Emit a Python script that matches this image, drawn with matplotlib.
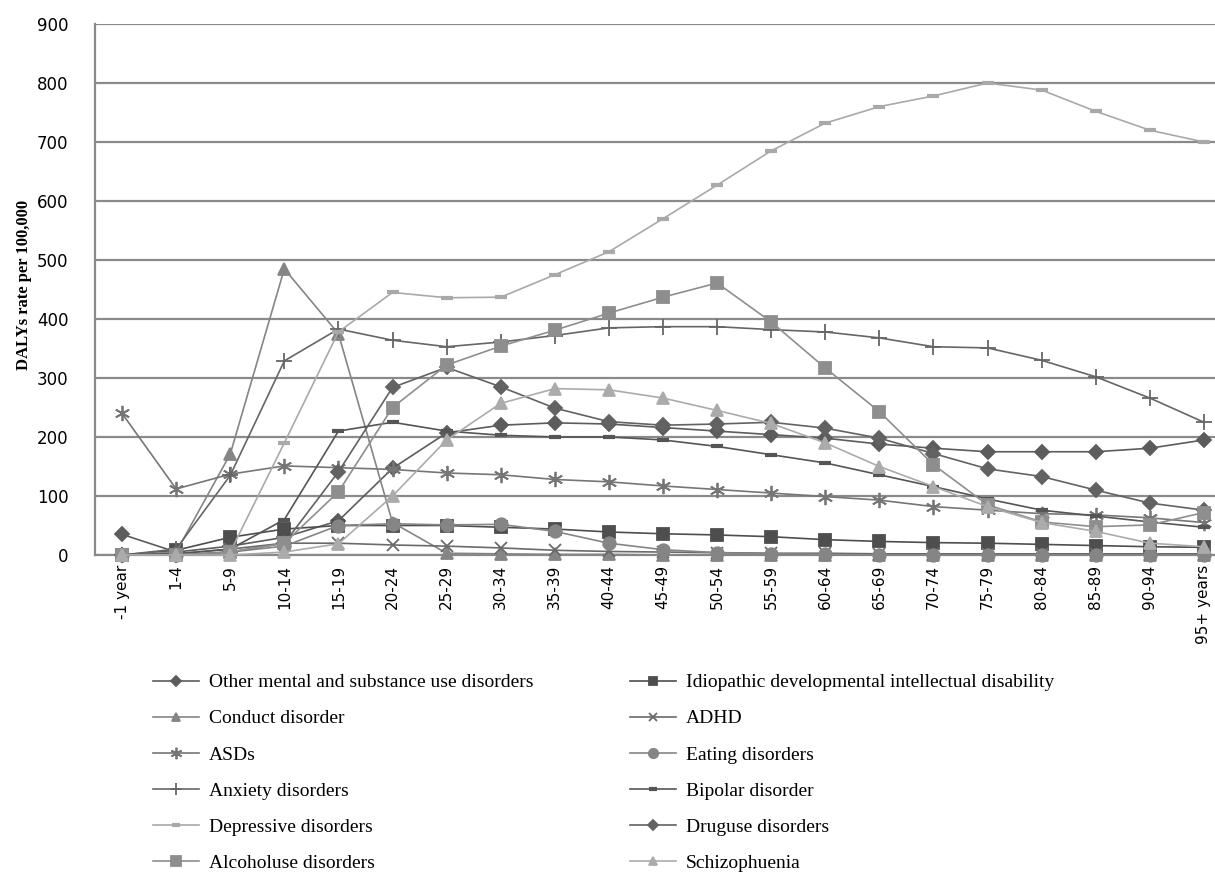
"""DALYs rate per 100,000 by age group for mental and substance use disorders."""
import matplotlib
matplotlib.use("Agg")
import matplotlib.pyplot as plt

AGES = ["-1 year", "1-4", "5-9", "10-14", "15-19", "20-24", "25-29", "30-34",
        "35-39", "40-44", "45-49", "50-54", "55-59", "60-64", "65-69", "70-74",
        "75-79", "80-84", "85-89", "90-94", "95+ years"]

other = [35, 5, 15, 30, 58, 147, 207, 220, 224, 222, 216, 210, 204, 198, 188, 181, 175, 175, 175, 181, 195]
idiopathic = [0, 8, 30, 44, 50, 50, 50, 47, 44, 39, 36, 34, 31, 26, 23, 21, 20, 18, 16, 14, 13]
conduct = [0, 5, 171, 485, 375, 55, 3, 2, 1, 1, 0, 0, 0, 0, 0, 0, 0, 0, 0, 0, 0]
adhd = [0, 2, 10, 20, 20, 17, 15, 12, 8, 6, 5, 4, 3, 3, 2, 2, 2, 2, 2, 2, 2]
asds = [240, 112, 137, 151, 148, 145, 139, 136, 128, 124, 117, 111, 105, 99, 93, 82, 76, 70, 68, 63, 55]
eating = [0, 0, 5, 15, 50, 53, 51, 52, 40, 20, 9, 4, 2, 1, 0, 0, 0, 0, 0, 0, 0]
anxiety = [0, 10, 135, 329, 383, 364, 353, 361, 372, 385, 387, 387, 382, 378, 368, 353, 351, 330, 302, 266, 225]
bipolar = [0, 2, 10, 60, 210, 225, 210, 203, 200, 200, 195, 184, 170, 156, 136, 116, 95, 76, 66, 56, 47]
depressive = [0, 0, 5, 190, 378, 445, 436, 437, 475, 514, 570, 627, 685, 732, 760, 778, 800, 788, 752, 720, 700]
druguse = [0, 0, 5, 20, 141, 284, 318, 285, 249, 226, 220, 222, 225, 215, 198, 172, 146, 133, 110, 88, 76]
alcohol = [0, 0, 5, 20, 107, 250, 322, 354, 381, 410, 437, 461, 395, 317, 243, 153, 85, 56, 48, 51, 72]
schizo = [0, 0, 0, 5, 19, 100, 195, 257, 282, 280, 266, 245, 223, 190, 150, 116, 82, 55, 40, 20, 14]

# (label, values, colour, marker, size)
SERIES = [
    ("Other mental and substance use disorders", other, "#5c5c5c", "D", 7),
    ("Idiopathic developmental intellectual disability", idiopathic, "#4e4e4e", "s", 8),
    ("Conduct disorder", conduct, "#858585", "^", 8),
    ("ADHD", adhd, "#6a6a6a", "x", 8),
    ("ASDs", asds, "#767676", (6, 2, 0), 11),
    ("Eating disorders", eating, "#858585", "o", 9),
    ("Anxiety disorders", anxiety, "#666666", "+", 12),
    ("Bipolar disorder", bipolar, "#555555", "_", 8),
    ("Depressive disorders", depressive, "#a9a9a9", "_", 8),
    ("Druguse disorders", druguse, "#626262", "D", 7),
    ("Alcoholuse disorders", alcohol, "#8e8e8e", "s", 9),
    ("Schizophuenia", schizo, "#ababab", "^", 8),
]

W, H = 1215, 872
fig = plt.figure(figsize=(W / 100, H / 100), dpi=100)
x0, x1, y0, y1 = 95, 1231, 24, 555
ax = fig.add_axes([x0 / W, 1 - y1 / H, (x1 - x0) / W, (y1 - y0) / H])

xs = list(range(len(AGES)))
handles = []
for label, vals, col, mk, ms in SERIES:
    mew = 3 if mk == "_" else 1.3
    (ln,) = ax.plot(xs, vals, color=col, lw=1.2, marker=mk, ms=ms,
                    mec=col, mfc=col, mew=mew, label=label, clip_on=False, zorder=3)
    handles.append(ln)

ax.set_xlim(-0.5, len(AGES) - 0.5)
ax.set_ylim(0, 900)
ax.set_yticks(range(0, 901, 100))
ax.set_xticks(xs)
ax.set_xticklabels(AGES, rotation=90, fontsize=11, family="DejaVu Sans")
ax.tick_params(axis="y", labelsize=12, length=0, pad=19)
ax.tick_params(axis="x", length=0, pad=7)
ax.grid(axis="y", color="#8a8a8a", lw=1.6, zorder=1)
ax.set_axisbelow(True)
for s in ("top", "right"):
    ax.spines[s].set_visible(False)
for s in ("left", "bottom"):
    ax.spines[s].set_color("#8a8a8a")
    ax.spines[s].set_linewidth(1.6)
fig.text(24 / W, 1 - 285 / H, "DALYs rate per 100,000", rotation=90, ha="center",
         va="center", family="Liberation Serif", fontweight="bold", fontsize=12)

# legend: two columns, row-wise order as in the source
col1 = handles[0::2]
col2 = handles[1::2]
common = dict(frameon=False, handlelength=2.4, labelspacing=0.95, markerscale=0.75,
              prop={"family": "Liberation Serif", "size": 14}, borderaxespad=0,
              handletextpad=0.5)
fig.legend(handles=col1, labels=[h.get_label() for h in col1], loc="upper left",
           bbox_to_anchor=(145 / W, 1 - 666 / H), **common)
fig.legend(handles=col2, labels=[h.get_label() for h in col2], loc="upper left",
           bbox_to_anchor=(622 / W, 1 - 666 / H), **common)

fig.savefig("out.png", dpi=100)
